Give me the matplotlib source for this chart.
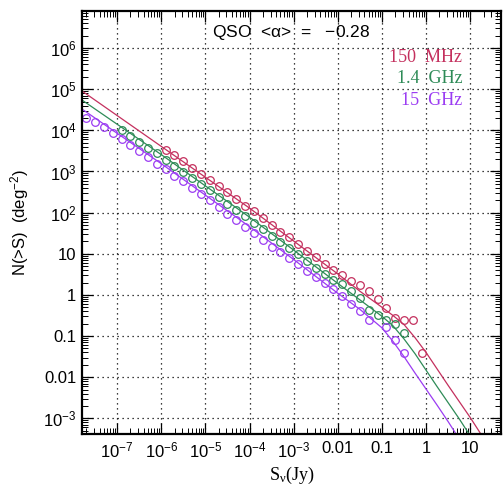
import numpy as np
import matplotlib.pyplot as plt
from matplotlib.ticker import LogLocator, NullFormatter

plt.rcParams['font.family'] = ['Liberation Sans', 'DejaVu Sans']
plt.rcParams['mathtext.default'] = 'regular'

# counts (log10 S [Jy], log10 N(>S) [deg^-2])
red_pts_logS = [-5.9, -5.7, -5.5, -5.3, -5.1, -4.9, -4.7, -4.5, -4.3, -4.1, -3.9, -3.7, -3.5, -3.3,
                -3.1, -2.9, -2.7, -2.5, -2.3, -2.1, -1.9, -1.7, -1.5, -1.3, -1.1, -0.9, -0.7, -0.5,
                -0.3, -0.1]
red_pts_logN = [3.53, 3.40, 3.26, 3.09, 2.95, 2.80, 2.64, 2.49, 2.34, 2.17, 2.03, 1.88, 1.71, 1.54,
                1.40, 1.23, 1.07, 0.92, 0.76, 0.61, 0.48, 0.35, 0.23, 0.09, -0.11, -0.32, -0.56, -0.60,
                -0.60, -1.40]

green_pts_logS = [-6.9, -6.7, -6.5, -6.3, -6.1, -5.9, -5.7, -5.5, -5.3, -5.1, -4.9, -4.7, -4.5, -4.3,
                  -4.1, -3.9, -3.7, -3.5, -3.3, -3.1, -2.9, -2.7, -2.5, -2.3, -2.1, -1.9, -1.7, -1.5,
                  -1.3, -1.1, -0.9, -0.7, -0.5]
green_pts_logN = [4.01, 3.86, 3.71, 3.58, 3.45, 3.29, 3.13, 2.98, 2.84, 2.70, 2.54, 2.38, 2.22, 2.07,
                  1.91, 1.76, 1.60, 1.44, 1.28, 1.14, 1.00, 0.83, 0.66, 0.50, 0.37, 0.26, 0.09, -0.08,
                  -0.36, -0.50, -0.60, -0.70, -0.92]

purple_pts_logS = [-7.7, -7.5, -7.3, -7.1, -6.9, -6.7, -6.5, -6.3, -6.1, -5.9, -5.7, -5.5, -5.3, -5.1,
                   -4.9, -4.7, -4.5, -4.3, -4.1, -3.9, -3.7, -3.5, -3.3, -3.1, -2.9, -2.7, -2.5, -2.3,
                   -2.1, -1.9, -1.7, -1.5, -1.3, -0.9, -0.7, -0.5]
purple_pts_logN = [4.29, 4.20, 4.07, 3.94, 3.78, 3.65, 3.49, 3.35, 3.19, 3.05, 2.90, 2.76, 2.59, 2.45,
                   2.30, 2.13, 1.97, 1.81, 1.64, 1.50, 1.34, 1.17, 1.04, 0.90, 0.74, 0.58, 0.43, 0.29,
                   0.15, -0.03, -0.22, -0.40, -0.62, -0.79, -1.10, -1.40]

# model curves
red_line_logS = [-7.8, -6, -4, -3, -2, -1.5, -1, -0.75, -0.5, -0.25, 0, 0.25, 0.5, 0.75, 1.0, 1.3]
red_line_logN = [4.96, 3.61, 2.11, 1.31, 0.51, 0.09, -0.30, -0.50, -0.72, -1.04, -1.40, -1.80,
                 -2.20, -2.59, -2.98, -3.48]
green_line_logS = [-7.8, -6, -4, -3, -2, -1.5, -1, -0.75, -0.5, -0.25, 0, 0.25, 0.5, 0.75, 1.05]
green_line_logN = [4.74, 3.41, 1.89, 1.09, 0.28, -0.12, -0.52, -0.75, -1.07, -1.43, -1.83, -2.23,
                   -2.62, -3.01, -3.51]
purple_line_logS = [-7.8, -6, -4, -3, -2, -1.5, -1, -0.75, -0.5, -0.25, 0, 0.25, 0.5, 0.75]
purple_line_logN = [4.52, 3.19, 1.66, 0.86, 0.04, -0.35, -0.80, -1.13, -1.50, -1.90, -2.29, -2.68,
                    -3.08, -3.50]

labels = ['150  MHz', '1.4  GHz', '15  GHz']
colors = ['#c4305e', '#2e8b57', '#9b3cf2']

xtick_vals = [1e-7, 1e-6, 1e-5, 1e-4, 1e-3, 0.01, 0.1, 1, 10]
xtick_labels = ['10$^{-7}$', '10$^{-6}$', '10$^{-5}$', '10$^{-4}$', '10$^{-3}$', '0.01', '0.1', '1', '10']
ytick_vals = [1e-3, 0.01, 0.1, 1, 10, 1e2, 1e3, 1e4, 1e5, 1e6]
ytick_labels = ['10$^{-3}$', '0.01', '0.1', '1', '10', '10$^2$', '10$^3$', '10$^4$', '10$^5$', '10$^6$']

fig = plt.figure(figsize=(5.03, 4.86), dpi=100)
ax = fig.add_axes([82 / 503, 52 / 486, 418.7 / 503, 423 / 486])

pts = [(red_pts_logS, red_pts_logN), (green_pts_logS, green_pts_logN), (purple_pts_logS, purple_pts_logN)]
lines = [(red_line_logS, red_line_logN), (green_line_logS, green_line_logN),
         (purple_line_logS, purple_line_logN)]

for (ls, ln), (ps, pn), c in zip(lines, pts, colors):
    ax.plot(10 ** np.array(ls), 10 ** np.array(ln), '-', color=c, lw=0.9)
    ax.plot(10 ** np.array(ps), 10 ** np.array(pn), 'o', mfc='none', mec=c, ms=5.5, mew=0.9)

ax.set_xscale('log')
ax.set_yscale('log')
ax.set_xlim(10 ** -7.795, 10 ** 1.69)
ax.set_ylim(10 ** -3.38, 10 ** 6.9)

ax.set_xticks(xtick_vals)
ax.set_xticklabels(xtick_labels)
ax.set_yticks(ytick_vals)
ax.set_yticklabels(ytick_labels)
ax.xaxis.set_minor_locator(LogLocator(base=10, subs=np.arange(2, 10), numticks=30))
ax.yaxis.set_minor_locator(LogLocator(base=10, subs=np.arange(2, 10), numticks=30))
ax.xaxis.set_minor_formatter(NullFormatter())
ax.yaxis.set_minor_formatter(NullFormatter())

ax.tick_params(which='both', direction='in', top=True, right=True, labelsize=12)
ax.tick_params(which='major', length=8, width=0.9)
ax.tick_params(axis='x', which='major', pad=5)
ax.tick_params(axis='y', which='major', pad=4)
ax.tick_params(which='minor', length=4, width=0.7)
for s in ax.spines.values():
    s.set_linewidth(1.6)

ax.grid(which='major', color='k', linestyle=(0, (1, 3)), lw=0.9)

ax.set_xlabel('S$_ν$(Jy)', family='Liberation Serif', fontsize=13, labelpad=3)
ax.set_ylabel('N(>S)  (deg$^{-2}$)', fontsize=12, labelpad=9)

ax.text(0.5, 0.95, 'QSO  <$\\alpha$>  =   \u22120.28', transform=ax.transAxes,
        ha='center', va='center', fontsize=12.5)
for i, (lab, c) in enumerate(zip(labels, colors)):
    ax.text(0.908, 0.891 - 0.051 * i, lab, transform=ax.transAxes, ha='right', va='center',
            color=c, family='Liberation Serif', fontsize=13)

plt.savefig('out.png', dpi=100)
